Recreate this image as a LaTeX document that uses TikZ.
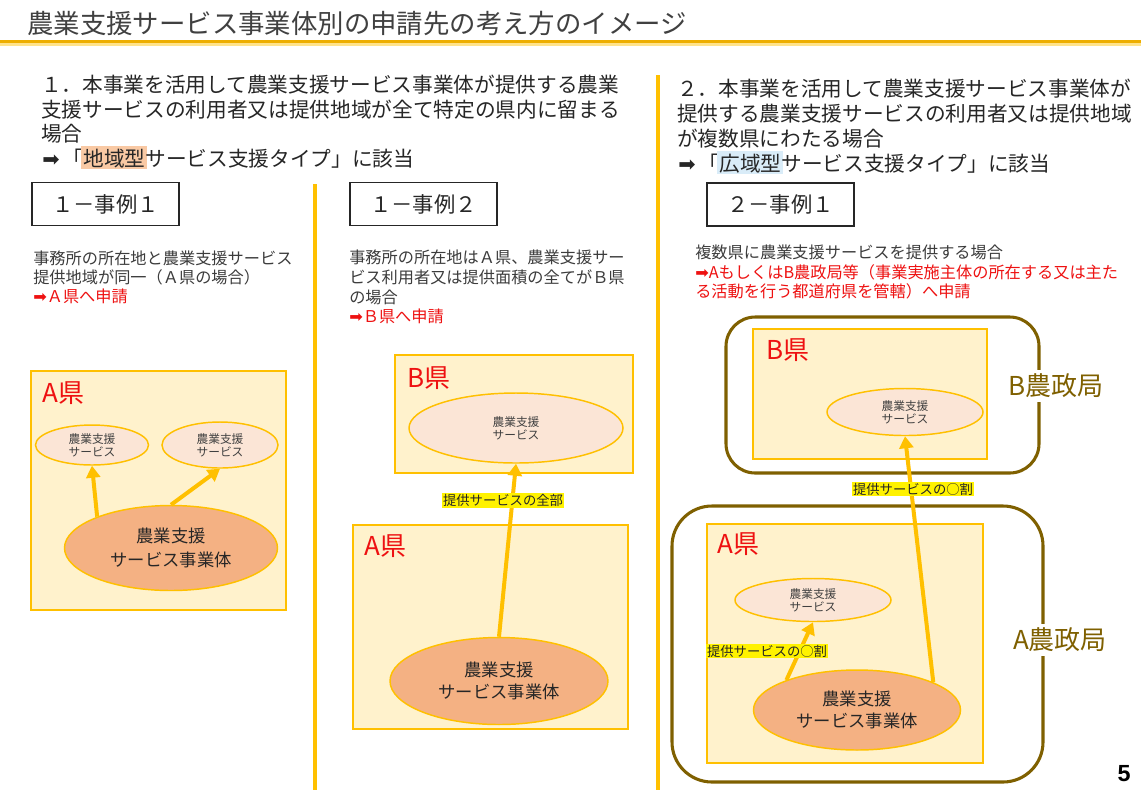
\documentclass[tikz,border=0pt]{standalone}
\usepackage{fontspec}
\setmainfont{Noto Sans CJK JP}
\newfontfamily\dejavu{DejaVu Sans}
\newfontfamily\libsans{Liberation Sans}
\usetikzlibrary{shapes.geometric,arrows.meta}
\definecolor{gold}{HTML}{FFC000}
\definecolor{golddark}{HTML}{EDAE00}
\definecolor{goldlight}{HTML}{FFE38A}
\definecolor{cream}{HTML}{FFF2CC}
\definecolor{pinkfill}{HTML}{FBE5D6}
\definecolor{orangefill}{HTML}{F4B183}
\definecolor{redtxt}{HTML}{EE1111}
\definecolor{olive}{HTML}{7F6000}
\definecolor{titlegray}{HTML}{404040}
\definecolor{txtdark}{HTML}{262626}
\definecolor{hlorange}{HTML}{F9C9A4}
\definecolor{hlblue}{HTML}{D9ECF8}
\newcommand\hlbox[2]{\begingroup\setbox0=\hbox{#2}\rlap{\hskip-1.5pt\color{#1}\rule[-0.15em]{\dimexpr\wd0+3pt\relax}{1.13em}}\box0\endgroup}
\newcommand\rarr{{\dejavu ➡}}
\tikzset{
  txt/.style={anchor=base west, inner sep=0pt, text=txtdark},
  ttl/.style={font=\fontsize{19.8}{23}\selectfont, text=titlegray},
  sec/.style={font=\fontsize{15.5}{18}\selectfont},
  desc/.style={font=\fontsize{12.15}{14}\selectfont, text=txtdark!90},
  redline/.style={text=redtxt},
  casebox/.style={draw=black!85, line width=1.1pt, minimum width=110.25pt, minimum height=32.25pt, inner sep=0pt, font=\fontsize{16}{18}\selectfont, text=txtdark},
  prefbox/.style={draw=gold, fill=cream, line width=1.1pt, inner sep=0pt},
  nouseikyoku/.style={draw=olive, line width=2.3pt, inner sep=0pt},
  preflabel/.style={anchor=west, inner sep=0pt, text=redtxt, font=\fontsize{19.5}{22}\selectfont},
  kyokulabel/.style={fill=white, inner sep=3pt, text=olive, font=\fontsize{19.5}{22}\selectfont},
  smallsvc/.style={ellipse, draw=gold, fill=pinkfill, line width=1.1pt, inner sep=0pt, align=center, text=titlegray, font=\fontsize{8.8}{10}\selectfont},
  bigsvc/.style={ellipse, draw=gold, fill=orangefill, line width=1.1pt, inner sep=0pt, align=center, text=txtdark, font=\fontsize{13}{16}\selectfont},
  arr/.style={draw=gold, line width=3pt, -{Triangle[length=9pt,width=10.5pt]}},
  hllabel/.style={fill=yellow, inner sep=1pt, text=txtdark, font=\fontsize{10}{12}\selectfont},
  divider/.style={draw=gold, line width=3pt}
}
\begin{document}
\begin{tikzpicture}[x=0.75pt,y=-0.75pt]
\useasboundingbox (0,0) rectangle (1141,790);
\fill[white] (0,0) rectangle (1141,790);

% title
\node[txt, ttl] (title) at (27,33) {農業支援サービス事業体別の申請先の考え方のイメージ};
\coordinate (ulA) at (0,41.5);
\coordinate (ulB) at (1141,41.5);
\coordinate (ulC) at (0,44.5);
\coordinate (ulD) at (1141,44.5);
\draw[goldlight, line width=1.6pt] (ulC) -- (ulD);
\draw[golddark, line width=2.6pt] (ulA) -- (ulB);

% dividers
\coordinate (d1a) at (315,184);
\coordinate (d1b) at (315,790);
\coordinate (d2a) at (658,75);
\coordinate (d2b) at (658,790);
\draw[divider] (d1a) -- (d1b);
\draw[divider] (d2a) -- (d2b);

% section 1 text
\node[txt, sec] (s1a) at (41,92) {１．本事業を活用して農業支援サービス事業体が提供する農業};
\node[txt, sec] (s1b) at (41,117) {支援サービスの利用者又は提供地域が全て特定の県内に留まる};
\node[txt, sec] (s1c) at (41,141) {場合};
\node[txt, sec] (s1d) at (42,166) {\rarr\hspace{2.4pt}「\hlbox{hlorange}{地域型}サービス支援タイプ」に該当};

% section 2 text
\node[txt, sec] (s2a) at (677,96) {２．本事業を活用して農業支援サービス事業体が};
\node[txt, sec] (s2b) at (677,121) {提供する農業支援サービスの利用者又は提供地域};
\node[txt, sec] (s2c) at (677,146) {が複数県にわたる場合};
\node[txt, sec] (s2d) at (678,171) {\rarr\hspace{2.4pt}「\hlbox{hlblue}{広域型}サービス支援タイプ」に該当};

% case boxes
\node[casebox] (case11) at (105.5,204) {１－事例１};
\node[casebox] (case12) at (423.5,204) {１－事例２};
\node[casebox] (case21) at (780.5,204.5) {２－事例１};

% descriptions
\node[txt, desc] (c1t1) at (33,264) {事務所の所在地と農業支援サービス};
\node[txt, desc] (c1t2) at (33,283) {提供地域が同一（Ａ県の場合）};
\node[txt, desc, redline] (c1t3) at (33,302) {\rarr Ａ県へ申請};

\node[txt, desc] (c2t1) at (349,263) {事務所の所在地はＡ県、農業支援サー};
\node[txt, desc] (c2t2) at (349,283) {ビス利用者又は提供面積の全てがＢ県};
\node[txt, desc] (c2t3) at (349,303) {の場合};
\node[txt, desc, redline] (c2t4) at (349,322) {\rarr Ｂ県へ申請};

\node[txt, desc] (c3t1) at (695,258) {複数県に農業支援サービスを提供する場合};
\node[txt, desc, redline] (c3t2) at (695,278) {\rarr AもしくはB農政局等（事業実施主体の所在する又は主た};
\node[txt, desc, redline] (c3t3) at (695,297) {る活動を行う都道府県を管轄）へ申請};

% ---------- column 1 ----------
\node[prefbox, minimum width=191.25pt, minimum height=179.25pt] (c1A) at (158.5,490.5) {};
\node[preflabel] (c1Alab) at (42,393) {A県};
\node[smallsvc, minimum width=84.75pt, minimum height=30pt] (c1sL) at (92,445) {農業支援\\サービス};
\node[smallsvc, minimum width=87pt, minimum height=34.5pt] (c1sR) at (220,445) {農業支援\\サービス};
\node[bigsvc, minimum width=159.75pt, minimum height=63.75pt, font=\fontsize{13}{18}\selectfont] (c1big) at (171,548) {農業支援\\サービス事業体};
\draw[arr] (c1big.157) -- (c1sL.south);
\draw[arr] (c1big.north) -- (c1sR.south);

% ---------- column 2 ----------
\node[prefbox, minimum width=178.5pt, minimum height=88.5pt] (c2B) at (514,414) {};
\node[preflabel] (c2Blab) at (407,378) {B県};
\node[smallsvc, minimum width=160.5pt, minimum height=52.5pt] (c2sB) at (516,428) {農業支援\\サービス};
\node[prefbox, minimum width=206.25pt, minimum height=153pt] (c2A) at (490.5,627) {};
\node[preflabel] (c2Alab) at (364,546) {A県};
\node[bigsvc, minimum width=163.5pt, minimum height=65.25pt] (c2big) at (499,681) {農業支援\\サービス事業体};
\draw[arr] (c2big.north) -- (c2sB.south);
\node[hllabel] (c2lab) at (503,500) {提供サービスの全部};

% ---------- column 3 ----------
\node[nouseikyoku, rounded corners=22pt, minimum width=234.75pt, minimum height=117pt] (kyokuB) at (882.5,395) {};
\node[nouseikyoku, rounded corners=30pt, minimum width=278.25pt, minimum height=207pt] (kyokuA) at (857.5,644) {};
\node[kyokulabel] (kyokuBlab) at (1056,386) {B農政局};
\node[kyokulabel] (kyokuAlab) at (1060,640) {A農政局};

\node[prefbox, minimum width=175.5pt, minimum height=97.5pt] (c3B) at (870,394) {};
\node[preflabel] (c3Blab) at (766,350) {B県};
\node[smallsvc, minimum width=117pt, minimum height=35.25pt] (c3sB) at (905,412) {農業支援\\サービス};

\node[prefbox, minimum width=207pt, minimum height=179.25pt] (c3A) at (845,643.5) {};
\node[preflabel] (c3Alab) at (717,544) {A県};
\node[smallsvc, minimum width=117pt, minimum height=32.25pt] (c3sA) at (813,600) {農業支援\\サービス};
\node[bigsvc, minimum width=155.25pt, minimum height=60pt] (c3big) at (857,710) {農業支援\\サービス事業体};
\draw[arr] (c3big.157) -- (c3sA.south);
\draw[arr] (c3big.20) -- (c3sB.south);
\node[hllabel] (c3labB) at (913,489) {提供サービスの○割};
\node[hllabel] (c3labA) at (767,651) {提供サービスの○割};

% page number
\node[inner sep=0pt, font=\libsans\bfseries\fontsize{17.5}{20}\selectfont] (pnum) at (1124,773.5) {5};
\end{tikzpicture}
\end{document}
